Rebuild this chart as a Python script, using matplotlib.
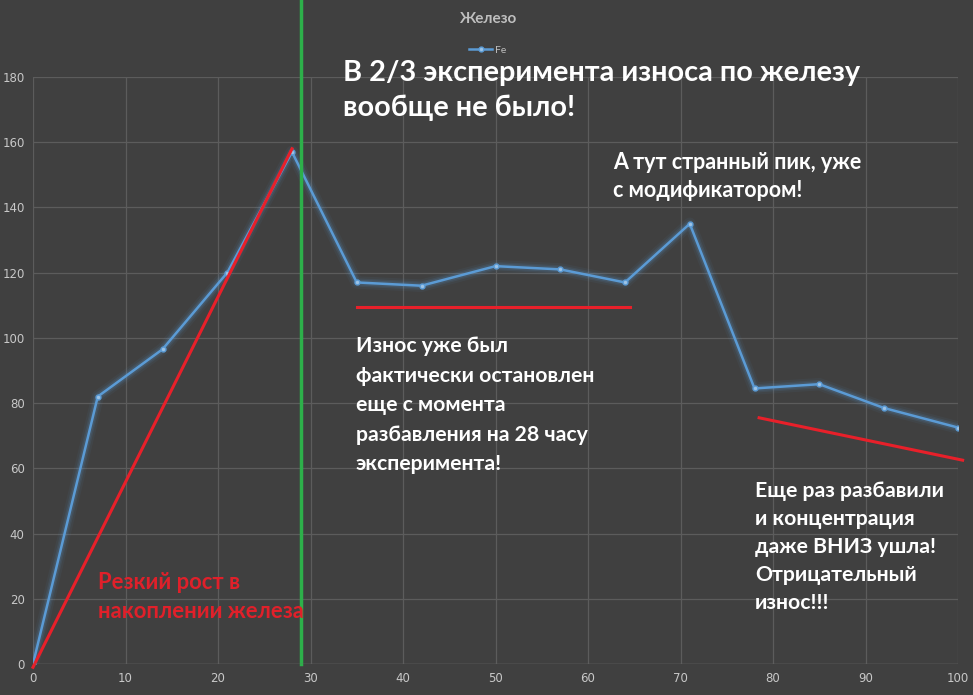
import matplotlib.pyplot as plt

# Данные: железо (Fe) по часам эксперимента
hours = [0, 7, 14, 21, 28, 35, 42, 50, 57, 64, 71, 78, 85, 92, 100]
fe = [0, 82, 96.5, 120, 157, 117, 116, 122, 121, 117, 135, 84.5, 85.8, 78.5, 72.5]

# Пометки (красные линии тренда и зелёная отметка разбавления)
trend1_x = [0, 28]
trend1_y = [-1, 158]
trend2_x = [35, 64.5]
trend2_y = [109.5, 109.5]
trend3_x = [78.5, 100.5]
trend3_y = [75.5, 62.5]
dilution_x = 29

x_ticks = list(range(0, 101, 10))
y_ticks = list(range(0, 181, 20))

bg = '#404040'
fig = plt.figure(figsize=(9.73, 6.95), dpi=100, facecolor=bg)
ax = fig.add_axes([33 / 973, 31 / 695, 925 / 973, 587 / 695], facecolor=bg)
plt.rcParams['font.family'] = ['Lato', 'DejaVu Sans']

# свечение линии
for lw, a in [(9, 0.06), (6, 0.1), (4, 0.15)]:
    ax.plot(hours, fe, color='#5b9bd5', linewidth=lw, alpha=a, solid_capstyle='round')
ax.plot(hours, fe, color='#5b9bd5', linewidth=1.8, marker='o', markersize=3.5,
        markerfacecolor='#9cc3e6', markeredgecolor='#5b9bd5', label='Fe')

ax.plot(trend1_x, trend1_y, color='#e8202a', linewidth=2.2, clip_on=False)
ax.plot(trend2_x, trend2_y, color='#e8202a', linewidth=2.2)
ax.plot(trend3_x, trend3_y, color='#e8202a', linewidth=2.2, clip_on=False)
ax.plot([dilution_x, dilution_x], [0, 205], color='#2db04a', linewidth=2.5, clip_on=False)

ax.set_xlim(0, 100)
ax.set_ylim(0, 180)
ax.set_xticks(x_ticks)
ax.set_yticks(y_ticks)
ax.grid(True, color='#5c5c5c', linewidth=0.9)
ax.set_axisbelow(True)
for s in ax.spines.values():
    s.set_visible(False)
ax.axhline(0, color='#6a6a6a', linewidth=1)
ax.tick_params(colors='#bfbfbf', labelsize=8.5, length=0, pad=6)
for lab in ax.get_xticklabels() + ax.get_yticklabels():
    lab.set_color('#c8c8c8')

fig.text(488 / 973, 1 - 19 / 695, 'Железо', color='#bfbfbf', fontsize=11,
         fontweight='bold', ha='center', va='center')
fig.legend(loc='center', bbox_to_anchor=(488 / 973, 1 - 50 / 695),
           frameon=False, fontsize=7.5, labelcolor='#bfbfbf', handlelength=2.2,
           handletextpad=0.3, borderpad=0)

fig.text(343 / 973, 1 - 60 / 695, 'В 2/3 эксперимента износа по железу\nвообще не было!',
         color='white', fontsize=20.8, fontweight='bold', va='top', ha='left', linespacing=1.42)
fig.text(613 / 973, 1 - 152 / 695, 'А тут странный пик, уже\nс модификатором!',
         color='white', fontsize=15.5, fontweight='bold', va='top', ha='left', linespacing=1.42)
fig.text(356 / 973, 1 - 336 / 695,
         'Износ уже был\nфактически остановлен\nеще с момента\nразбавления на 28 часу\nэксперимента!',
         color='white', fontsize=15.3, fontweight='bold', va='top', ha='left', linespacing=1.6)
fig.text(755 / 973, 1 - 481 / 695,
         'Еще раз разбавили\nи концентрация\nдаже ВНИЗ ушла!\nОтрицательный\nизнос!!!',
         color='white', fontsize=15.3, fontweight='bold', va='top', ha='left', linespacing=1.5)
fig.text(98 / 973, 1 - 572 / 695, 'Резкий рост в\nнакоплении железа',
         color='#e0202a', fontsize=15.8, fontweight='bold', va='top', ha='left', linespacing=1.5)

fig.savefig('out.png', dpi=100, facecolor=bg)
